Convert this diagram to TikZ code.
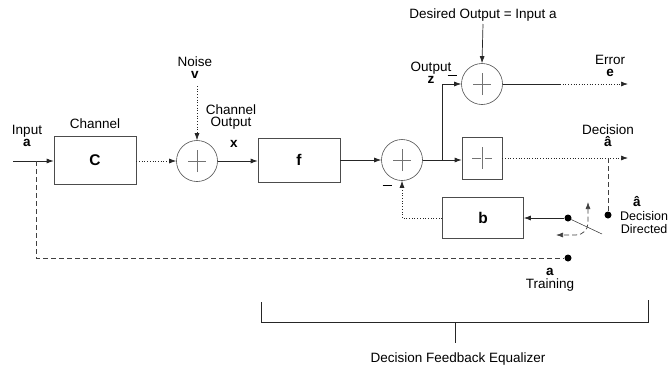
\documentclass[tikz,border=0pt]{standalone}
\usepackage{fontspec}
\setmainfont{Liberation Sans}
\usetikzlibrary{arrows.meta}
\begin{document}
\begin{tikzpicture}[x=1pt,y=-1pt, font=\fontsize{13.5}{15}\selectfont,
  ln/.style={draw=black!85, line width=0.7pt},
  arr/.style={ln,-{Latex[length=7pt,width=5pt]}},
  blk/.style={draw=black!70, line width=0.7pt, minimum width=82pt, minimum height=42pt, inner sep=0pt},
  sumc/.style={circle, draw=black!70, line width=0.6pt, minimum size=41pt, inner sep=0pt},
  lbl/.style={inner sep=1pt, align=center},
  dotn/.style={circle, fill=black, minimum size=7pt, inner sep=0pt},
  crs/.style={draw=black!55, line width=0.6pt},
  dsh/.style={draw=black!75, line width=0.7pt, dash pattern=on 5pt off 3pt},
]
\useasboundingbox (0,0) rectangle (670,370);

% blocks
\node[blk, minimum height=48pt] (C) at (95,160) {\fontsize{15.5}{15}\selectfont\bfseries C};
\node[sumc] (s1) at (197,161) {};
\node[blk, minimum height=44pt] (f) at (299,160) {\fontsize{15.5}{15}\selectfont\bfseries f};
\node[sumc] (s2) at (402,160) {};
\node[blk, minimum width=40pt, minimum height=42pt] (q) at (482,158) {};
\node[sumc] (s3) at (482,84) {};
\node[blk, minimum width=81pt, minimum height=41pt] (b) at (483,218) {\fontsize{15.5}{15}\selectfont\bfseries b};

% crosses
\foreach \n in {s1,s2,s3}{
  \draw[crs] ([xshift=-9pt]\n.center) -- ([xshift=9pt]\n.center);
  \draw[crs] ([yshift=-11pt]\n.center) -- ([yshift=11pt]\n.center);
}
\draw[crs] ([xshift=-10pt]q.center) -- ([xshift=-1pt]q.center);
\draw[crs] ([xshift=3pt]q.center) -- ([xshift=10pt]q.center);
\draw[crs] ([yshift=-11pt]q.center) -- ([yshift=11pt]q.center);

% labels
\node[lbl] (inlbl) at (27,136) {Input\\[-3pt]\textbf{a}};
\node[lbl] (chlbl) at (95,124) {Channel};
\node[lbl] (nlbl) at (195,68) {Noise\\[-3pt]\textbf{v}};
\node[lbl] (colbl) at (231,117) {Channel\\[-3pt]Output};
\node[lbl] (xlbl) at (234,144) {\textbf{x}};
\node[lbl] (dolbl) at (483,15) {Desired Output = Input a};
\node[lbl] (outlbl) at (431,73) {Output\\[-3pt]\textbf{z}};
\node[lbl] (errlbl) at (610,66) {Error\\[-3pt]\textbf{e}};
\node[lbl] (declbl) at (608,136) {Decision\\[-3pt]\textbf{â}};
\node[lbl] (ahat) at (637,202) {\textbf{â}};
\node[lbl, anchor=west, font=\fontsize{12.5}{15}\selectfont] (ddlbl) at (619,223) {Decision\\[-2pt]Directed};
\node[lbl] (trlbl) at (550,280) {\textbf{a}\\[-2pt]Training};
\node[lbl] (dfe) at (458,359) {Decision Feedback Equalizer};

% minus signs
\node[lbl] (m1) at (452,75) {\rule{9pt}{0.8pt}};
\node[lbl] (m2) at (387,185) {\rule{9pt}{0.8pt}};

% coordinates
\coordinate (st) at (13,161);
\coordinate (tj) at (36,161);
\coordinate (tb) at (36,258);
\coordinate (ntop) at (197,86);
\coordinate (br) at (442,160);
\coordinate (bz) at (442,84);
\coordinate (dtop) at (483,24);
\coordinate (eend) at (628,84);
\coordinate (dend) at (628,158);
\coordinate (dj) at (608,158);
\coordinate (fb) at (402,218);
\coordinate (sw) at (602,234);
\coordinate (cu1) at (588,202);
\coordinate (cu2) at (556,235);

\node[dotn] (ddot) at (608,215) {};
\node[dotn] (sdot) at (568,218) {};
\node[dotn] (tdot) at (568,258) {};

% main path
\draw[arr] (st) -- (C.west |- st);
\draw[arr, dotted] (C.east |- s1) -- (s1.west);
\draw[arr, dotted] (ntop) -- (s1.north);
\draw[arr] (s1.east) -- (f.west |- s1);
\draw[arr] (f.east) -- (s2.west);
\draw[arr] (s2.east) -- (q.west |- s2);
\draw[arr] (br) -- (bz) -- (s3.west);
\draw[arr] (dtop) -- (s3.north);
\draw[ln] (s3.east) -- (560,84);
\draw[arr, dotted] (560,84) -- (eend);
\draw[arr, dotted] (q.east) -- (dend);
\draw[dsh] (dj) -- (ddot);
\draw[arr] (sdot) -- (b.east);
\draw[arr, dotted] (b.west) -- (fb) -- (s2.south);
\draw[ln, line width=0.5pt] (sdot) -- (sw);
\draw[dsh, {Latex[length=7pt,width=5pt]}-{Latex[length=7pt,width=5pt]}] (cu1) -- (588,223) to[out=-90,in=0] (576,235) -- (cu2);
\draw[dsh] (tj) -- (tb) -- (tdot);

% bracket
\draw[ln] (261,302) -- (261,322) -- (648,322) -- (648,300);
\draw[ln] (455,322) -- (455,343);
\end{tikzpicture}
\end{document}
